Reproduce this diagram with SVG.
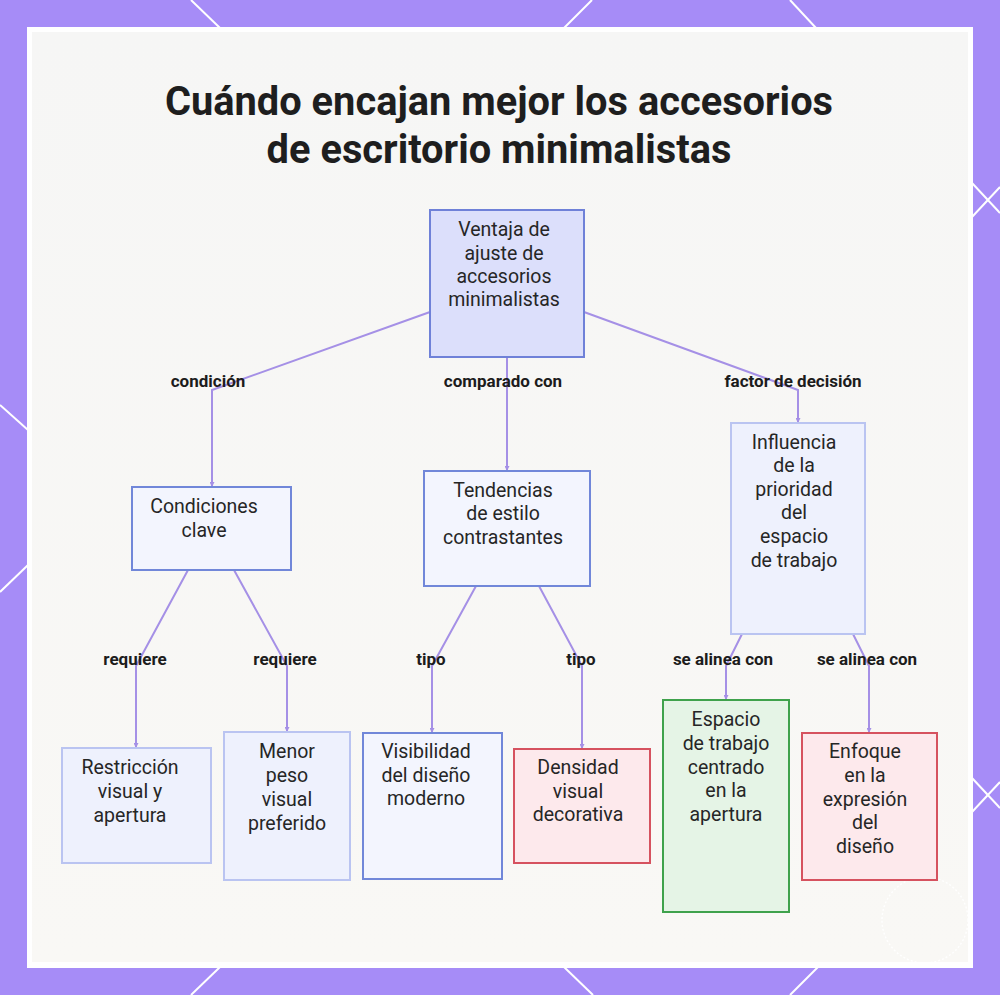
<svg xmlns="http://www.w3.org/2000/svg" width="1000" height="995" viewBox="0 0 1000 995">
<defs>
<style>
.frame-line{stroke:#ffffff;stroke-width:2;fill:none}
.edge{stroke:#a590e6;stroke-width:2;fill:none}
.lbl{font-family:Roboto,"Liberation Sans",sans-serif;font-weight:700;font-size:17px;fill:#1c1c1c;text-anchor:middle}
.nt{font-family:Roboto,"Liberation Sans",sans-serif;font-size:19.5px;fill:#262626;text-anchor:middle}
.title{font-family:Roboto,"Liberation Sans",sans-serif;font-weight:700;font-size:39.8px;fill:#1e1e1e;text-anchor:middle}
.root{fill:#dcdffb;stroke:#6f81d8;stroke-width:2}
.strong{fill:#f3f5fe;stroke:#7187d9;stroke-width:2}
.light{fill:#eef1fd;stroke:#bac4f1;stroke-width:2}
.red{fill:#fde9ec;stroke:#d6525f;stroke-width:2}
.green{fill:#e5f4e6;stroke:#3fa24c;stroke-width:2}
</style>
<marker id="arr" viewBox="0 0 6 6" refX="6" refY="3" markerWidth="5" markerHeight="5" orient="auto" markerUnits="userSpaceOnUse">
<path d="M0,0 L6,3 L0,6 z" fill="#a590e6"/>
</marker>
<linearGradient id="bg" x1="0" y1="0" x2="0" y2="1">
<stop offset="0" stop-color="#f6f6f5"/>
<stop offset="1" stop-color="#f9f8f5"/>
</linearGradient>
</defs>

<rect x="0" y="0" width="1000" height="995" fill="#a68cf7"/>
<g id="frame-lines">
<line class="frame-line" x1="191" y1="0" x2="220" y2="28"/>
<line class="frame-line" x1="592" y1="0" x2="564" y2="28"/>
<line class="frame-line" x1="790" y1="0" x2="816" y2="28"/>
<line class="frame-line" x1="191" y1="995" x2="220" y2="967"/>
<line class="frame-line" x1="593" y1="995" x2="564" y2="967"/>
<line class="frame-line" x1="790" y1="995" x2="818" y2="967"/>
<line class="frame-line" x1="0" y1="405" x2="28" y2="430"/>
<line class="frame-line" x1="0" y1="592" x2="28" y2="565"/>
<line class="frame-line" x1="972" y1="183" x2="1000" y2="213"/>
<line class="frame-line" x1="972" y1="217" x2="1000" y2="187"/>
<line class="frame-line" x1="972" y1="778" x2="1000" y2="808"/>
<line class="frame-line" x1="972" y1="812" x2="1000" y2="782"/>
</g>
<rect x="27" y="27" width="946" height="941" fill="#ffffff"/>
<rect x="32" y="32" width="936" height="930" fill="url(#bg)"/>
<circle cx="925" cy="920" r="43" fill="none" stroke="#ffffff" stroke-width="1.5" stroke-dasharray="2 2" opacity="0.9"/>

<text class="title" x="499" y="115">Cuándo encajan mejor los accesorios</text>
<text class="title" x="499" y="163">de escritorio minimalistas</text>

<g id="connectors">
<path class="edge" d="M430,312 L212,390 L212,487" marker-end="url(#arr)"/>
<path class="edge" d="M507,357 L507,471" marker-end="url(#arr)"/>
<path class="edge" d="M584,312 L798,390 L798,423" marker-end="url(#arr)"/>
<path class="edge" d="M188,570 L136,666 L136,748" marker-end="url(#arr)"/>
<path class="edge" d="M234,570 L287,666 L287,732" marker-end="url(#arr)"/>
<path class="edge" d="M476,586 L432,666 L432,733" marker-end="url(#arr)"/>
<path class="edge" d="M539,586 L582,666 L582,749" marker-end="url(#arr)"/>
<path class="edge" d="M742,634 L726,666 L726,700" marker-end="url(#arr)"/>
<path class="edge" d="M853,634 L869,666 L869,733" marker-end="url(#arr)"/>
<text class="lbl" x="208" y="387">condición</text>
<text class="lbl" x="503" y="387">comparado con</text>
<text class="lbl" x="793" y="387">factor de decisión</text>
<text class="lbl" x="135" y="665">requiere</text>
<text class="lbl" x="285" y="665">requiere</text>
<text class="lbl" x="431" y="665">tipo</text>
<text class="lbl" x="581" y="665">tipo</text>
<text class="lbl" x="723" y="665">se alinea con</text>
<text class="lbl" x="867" y="665">se alinea con</text>
</g>

<g id="node-root">
<rect class="root" x="430" y="210" width="154" height="147"/>
<text class="nt" x="504" y="236">Ventaja de</text>
<text class="nt" x="504" y="260">ajuste de</text>
<text class="nt" x="504" y="283">accesorios</text>
<text class="nt" x="504" y="306">minimalistas</text>
</g>
<g id="node-condiciones">
<rect class="strong" x="132" y="487" width="159" height="83"/>
<text class="nt" x="204" y="513">Condiciones</text>
<text class="nt" x="204" y="537">clave</text>
</g>
<g id="node-tendencias">
<rect class="strong" x="424" y="471" width="166" height="115"/>
<text class="nt" x="503" y="497">Tendencias</text>
<text class="nt" x="503" y="520">de estilo</text>
<text class="nt" x="503" y="544">contrastantes</text>
</g>
<g id="node-influencia">
<rect class="light" x="731" y="423" width="134" height="211"/>
<text class="nt" x="794" y="449">Influencia</text>
<text class="nt" x="794" y="472">de la</text>
<text class="nt" x="794" y="496">prioridad</text>
<text class="nt" x="794" y="519">del</text>
<text class="nt" x="794" y="543">espacio</text>
<text class="nt" x="794" y="567">de trabajo</text>
</g>
<g id="node-restriccion">
<rect class="light" x="62" y="748" width="149" height="115"/>
<text class="nt" x="130" y="774">Restricción</text>
<text class="nt" x="130" y="798">visual y</text>
<text class="nt" x="130" y="822">apertura</text>
</g>
<g id="node-menor">
<rect class="light" x="224" y="732" width="126" height="148"/>
<text class="nt" x="287" y="758">Menor</text>
<text class="nt" x="287" y="782">peso</text>
<text class="nt" x="287" y="806">visual</text>
<text class="nt" x="287" y="830">preferido</text>
</g>
<g id="node-visibilidad">
<rect class="strong" x="363" y="733" width="139" height="146"/>
<text class="nt" x="426" y="758">Visibilidad</text>
<text class="nt" x="426" y="782">del diseño</text>
<text class="nt" x="426" y="805">moderno</text>
</g>
<g id="node-densidad">
<rect class="red" x="514" y="749" width="136" height="114"/>
<text class="nt" x="578" y="774">Densidad</text>
<text class="nt" x="578" y="798">visual</text>
<text class="nt" x="578" y="821">decorativa</text>
</g>
<g id="node-espacio">
<rect class="green" x="663" y="700" width="126" height="212"/>
<text class="nt" x="726" y="726">Espacio</text>
<text class="nt" x="726" y="750">de trabajo</text>
<text class="nt" x="726" y="774">centrado</text>
<text class="nt" x="726" y="797">en la</text>
<text class="nt" x="726" y="821">apertura</text>
</g>
<g id="node-enfoque">
<rect class="red" x="802" y="733" width="135" height="147"/>
<text class="nt" x="865" y="758">Enfoque</text>
<text class="nt" x="865" y="782">en la</text>
<text class="nt" x="865" y="806">expresión</text>
<text class="nt" x="865" y="829">del</text>
<text class="nt" x="865" y="853">diseño</text>
</g>
</svg>
